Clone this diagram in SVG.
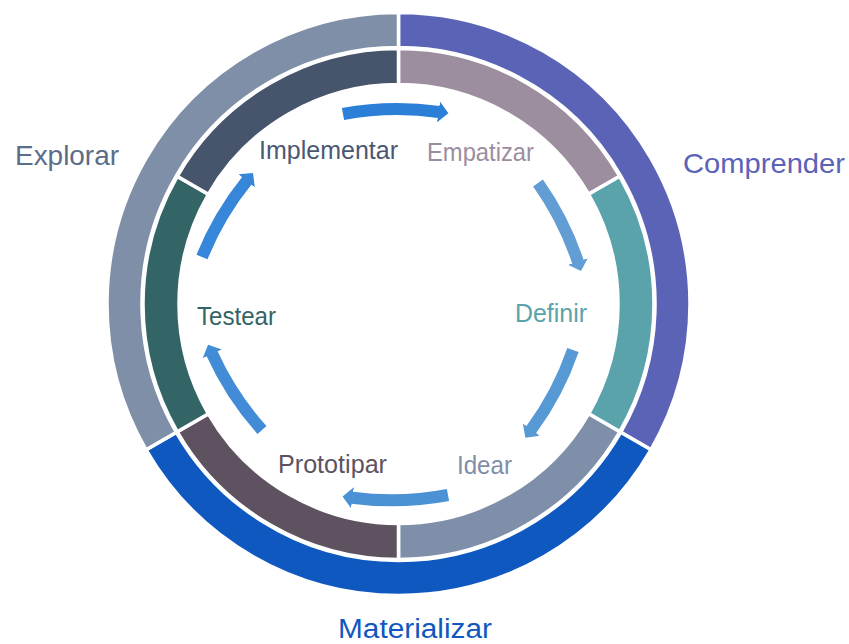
<svg xmlns="http://www.w3.org/2000/svg" width="849" height="644" viewBox="0 0 849 644">
<style>
.seg{stroke:#ffffff;stroke-width:3.5;stroke-linejoin:miter}
.lbl{font-family:"Liberation Sans",Arial,sans-serif;font-size:25px}
.big{font-family:"Liberation Sans",Arial,sans-serif;font-size:28px}
.arr{fill:none;stroke-width:12;stroke-linecap:butt}
</style>
<defs>
<marker id="h1" markerUnits="userSpaceOnUse" markerWidth="12" markerHeight="24" viewBox="0 -12 12 24" refX="0.5" refY="0" orient="auto"><path d="M0,-10.5 L10,0 L0,10.5 Z" fill="#2B7FD6"/></marker>
<marker id="h2" markerUnits="userSpaceOnUse" markerWidth="12" markerHeight="24" viewBox="0 -12 12 24" refX="0.5" refY="0" orient="auto"><path d="M0,-10.5 L10,0 L0,10.5 Z" fill="#629ED3"/></marker>
<marker id="h3" markerUnits="userSpaceOnUse" markerWidth="12" markerHeight="24" viewBox="0 -12 12 24" refX="0.5" refY="0" orient="auto"><path d="M0,-10.5 L10,0 L0,10.5 Z" fill="#5699D4"/></marker>
<marker id="h4" markerUnits="userSpaceOnUse" markerWidth="12" markerHeight="24" viewBox="0 -12 12 24" refX="0.5" refY="0" orient="auto"><path d="M0,-10.5 L10,0 L0,10.5 Z" fill="#4B91D5"/></marker>
<marker id="h5" markerUnits="userSpaceOnUse" markerWidth="12" markerHeight="24" viewBox="0 -12 12 24" refX="0.5" refY="0" orient="auto"><path d="M0,-10.5 L10,0 L0,10.5 Z" fill="#428CD7"/></marker>
<marker id="h6" markerUnits="userSpaceOnUse" markerWidth="12" markerHeight="24" viewBox="0 -12 12 24" refX="0.5" refY="0" orient="auto"><path d="M0,-10.5 L10,0 L0,10.5 Z" fill="#3686D9"/></marker>
</defs>
<rect width="849" height="644" fill="#ffffff"/>

<g id="comprender">
<path class="seg" fill="#5B63B7" d="M398.5,12.5 A291.5,291.5 0 0 1 650.95,449.75 L620.63,432.25 A256.5,256.5 0 0 0 398.5,47.5 Z"/>
<text class="big" x="683" y="173" fill="#5B63B7" textLength="162" lengthAdjust="spacingAndGlyphs">Comprender</text>
</g>
<g id="materializar">
<path class="seg" fill="#0F58C0" d="M650.95,449.75 A291.5,291.5 0 0 1 146.05,449.75 L176.37,432.25 A256.5,256.5 0 0 0 620.63,432.25 Z"/>
<text x="338" y="638" fill="#1058C0" font-family="Liberation Sans, Arial, sans-serif" font-size="27" textLength="154" lengthAdjust="spacingAndGlyphs">Materializar</text>
</g>
<g id="explorar">
<path class="seg" fill="#7F8FA8" d="M146.05,449.75 A291.5,291.5 0 0 1 398.5,12.5 L398.5,47.5 A256.5,256.5 0 0 0 176.37,432.25 Z"/>
<text class="big" x="15" y="165" fill="#5B6D89" textLength="104" lengthAdjust="spacingAndGlyphs">Explorar</text>
</g>

<g id="empatizar">
<path class="seg" fill="#9C8E9E" d="M398.5,48.5 A255.5,255.5 0 0 1 619.77,176.25 L588.59,194.25 A219.5,219.5 0 0 0 398.5,84.5 Z"/>
<text class="lbl" x="427" y="161" fill="#9C8E9E" textLength="107" lengthAdjust="spacingAndGlyphs">Empatizar</text>
</g>
<g id="definir">
<path class="seg" fill="#5AA3AB" d="M619.77,176.25 A255.5,255.5 0 0 1 619.77,431.75 L588.59,413.75 A219.5,219.5 0 0 0 588.59,194.25 Z"/>
<text class="lbl" x="515" y="322" fill="#5AA3AB" textLength="72" lengthAdjust="spacingAndGlyphs">Definir</text>
</g>
<g id="idear">
<path class="seg" fill="#7F8FA9" d="M619.77,431.75 A255.5,255.5 0 0 1 398.5,559.5 L398.5,523.5 A219.5,219.5 0 0 0 588.59,413.75 Z"/>
<text class="lbl" x="457" y="474" fill="#7F8FA9" textLength="55" lengthAdjust="spacingAndGlyphs">Idear</text>
</g>
<g id="prototipar">
<path class="seg" fill="#5E5260" d="M398.5,559.5 A255.5,255.5 0 0 1 177.23,431.75 L208.41,413.75 A219.5,219.5 0 0 0 398.5,523.5 Z"/>
<text class="lbl" x="278" y="472.5" fill="#5E5260" textLength="109" lengthAdjust="spacingAndGlyphs">Prototipar</text>
</g>
<g id="testear">
<path class="seg" fill="#336466" d="M177.23,431.75 A255.5,255.5 0 0 1 177.23,176.25 L208.41,194.25 A219.5,219.5 0 0 0 208.41,413.75 Z"/>
<text class="lbl" x="197" y="325" fill="#336466" textLength="79" lengthAdjust="spacingAndGlyphs">Testear</text>
</g>
<g id="implementar">
<path class="seg" fill="#46546C" d="M177.23,176.25 A255.5,255.5 0 0 1 398.5,48.5 L398.5,84.5 A219.5,219.5 0 0 0 208.41,194.25 Z"/>
<text class="lbl" x="259" y="159" fill="#4A5872" textLength="139" lengthAdjust="spacingAndGlyphs">Implementar</text>
</g>

<g id="connectors">
<path class="arr" stroke="#2B7FD6" marker-end="url(#h1)" d="M343,114 A300,300 0 0 1 439,112"/>
<path class="arr" stroke="#629ED3" marker-end="url(#h2)" d="M538,183 A300,300 0 0 1 578,262"/>
<path class="arr" stroke="#5699D4" marker-end="url(#h3)" d="M573,350 A300,300 0 0 1 531,430"/>
<path class="arr" stroke="#4B91D5" marker-end="url(#h4)" d="M448,495 A300,300 0 0 1 352,497.7"/>
<path class="arr" stroke="#428CD7" marker-end="url(#h5)" d="M262,430 A300,300 0 0 1 212,353.5"/>
<path class="arr" stroke="#3686D9" marker-end="url(#h6)" d="M202,257 A300,300 0 0 1 247,180.5"/>
</g>
</svg>
